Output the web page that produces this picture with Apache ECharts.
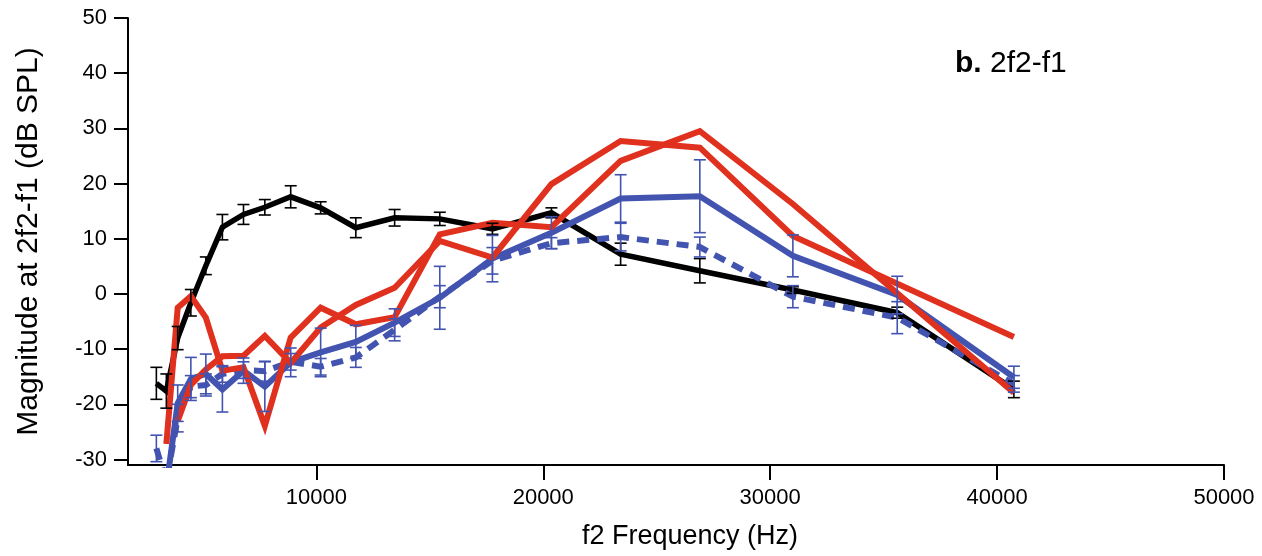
<!DOCTYPE html>
<html>
<head>
<meta charset="utf-8">
<script src="https://cdn.jsdelivr.net/npm/echarts@6/dist/echarts.min.js"></script>
<style>
html,body{margin:0;padding:0;background:#fff;}
#chart{width:1262px;height:556px;}
</style>
</head>
<body>
<div id="chart"></div>
<script>
// f2 frequencies (Hz)
const freqs = [2950, 3390, 3890, 4470, 5130, 5860, 6790, 7730, 8870, 10190, 11740, 13450, 15440, 17760, 20360, 23410, 26900, 31000, 35600, 40740];
// black series and SEM
const black    = [-16.2, -17.6, -8.0, -1.6, 5.1, 12.1, 14.4, 15.7, 17.6, 15.6, 12.0, 13.8, 13.6, 11.8, 14.7, 7.2, 4.2, 0.7, -3.4, -17.3];
const blackErr = [2.9, 3.1, 2.1, 2.4, 1.6, 2.3, 1.8, 1.4, 2.0, 1.1, 1.8, 1.5, 1.2, 1.0, 0.9, 2.0, 2.2, 0.6, 1.0, 1.5];
// blue solid series and SEM
const blueSolid = [null, -35, -19.8, -15.4, -14.5, -17.3, -13.9, -16.8, -12.4, -10.6, -8.7, -5.2, -0.7, 6.4, 11.1, 17.3, 17.7, 6.9, -0.2, -15.1];
const solidErr  = [null, null, 3.3, 3.9, 3.6, 4.1, 2.3, 4.5, 2.6, 4.4, 3.0, 2.5, 5.7, 4.2, 2.9, 4.3, 6.6, 3.8, 3.4, 2.0];
// blue dashed series and SEM
const blueDashed = [-28.0, -34, -22.5, -16.8, -16.5, -14.5, -13.8, -14.0, -12.3, -13.2, -11.5, -6.5, -0.5, 6.0, 9.2, 10.3, 8.5, -0.5, -4.3, -16.3];
const dashedErr  = [2.4, null, 2.5, 2.0, 2.0, 1.5, 1.5, 1.8, 1.5, 1.5, 1.8, 2.0, 2.0, 2.4, 1.0, 2.5, 1.8, 2.0, 2.9, 1.5];
// two red series
const red1 = [null, -27.2, -2.5, -0.4, -4.3, -13.9, -13.3, -23.9, -7.9, -2.5, -5.5, -4.2, 10.8, 12.9, 12.1, 24.1, 29.5, 16.3, null, -17.9];
const red2 = [null, null, -23, -16.5, -13.7, -11.3, -11.2, -7.6, -12.5, -6.1, -2.0, 1.1, 9.6, 6.6, 19.9, 27.7, 26.5, 10.5, null, -7.8];
// tick labels
const xTicks = [10000, 20000, 30000, 40000, 50000];
const yTicks = [-30, -20, -10, 0, 10, 20, 30, 40, 50];

const RED = '#e0301e', BLUE = '#4254b0', BLACK = '#000000';
const TICK_FONT = '"Liberation Sans Narrow", "Liberation Sans", sans-serif';

function pts(vals) {
  const out = [];
  vals.forEach((v, i) => { if (v !== null) out.push([freqs[i], v]); });
  return out;
}
function errPts(vals, errs) {
  const out = [];
  vals.forEach((v, i) => { if (v !== null && errs[i] !== null) out.push([freqs[i], v, errs[i]]); });
  return out;
}
function errSeries(vals, errs, color, z) {
  return {
    type: 'custom', z: z, silent: true,
    data: errPts(vals, errs),
    encode: { x: 0, y: 1 },
    renderItem: function (params, api) {
      const x = api.value(0), y = api.value(1), e = api.value(2);
      const lo = api.coord([x, y - e]);
      const hi = api.coord([x, y + e]);
      const w = 6;
      const st = { stroke: color, lineWidth: 1.6 };
      return {
        type: 'group',
        children: [
          { type: 'line', shape: { x1: lo[0], y1: lo[1], x2: hi[0], y2: hi[1] }, style: st },
          { type: 'line', shape: { x1: lo[0] - w, y1: lo[1], x2: lo[0] + w, y2: lo[1] }, style: st },
          { type: 'line', shape: { x1: hi[0] - w, y1: hi[1], x2: hi[0] + w, y2: hi[1] }, style: st }
        ]
      };
    }
  };
}
function lineSeries(vals, color, width, z, dashed) {
  return {
    type: 'line', z: z, data: pts(vals), symbol: 'none', clip: true,
    lineStyle: { color: color, width: width, type: dashed ? [12, 8] : 'solid', join: 'miter' },
    silent: true
  };
}

const chart = echarts.init(document.getElementById('chart'), null, { renderer: 'canvas' });
chart.setOption({
  animation: false,
  backgroundColor: '#ffffff',
  grid: { left: 128, right: 38, top: 18, bottom: 91, containLabel: false },
  xAxis: {
    type: 'value', min: 1700, max: 50000,
    name: 'f2 Frequency (Hz)', nameLocation: 'middle', nameGap: 58,
    nameTextStyle: { fontFamily: 'Liberation Sans', fontSize: 27, color: '#000', padding: [0, 0, 0, 28] },
    axisLine: { onZero: false, lineStyle: { color: '#000', width: 2 } },
    axisTick: { show: true, length: 15, lineStyle: { color: '#000', width: 2 }, customValues: xTicks },
    axisLabel: { color: '#000', fontFamily: TICK_FONT, fontSize: 22, margin: 22, customValues: xTicks,
      formatter: function (v) { return String(v); } },
    splitLine: { show: false }
  },
  yAxis: {
    type: 'value', min: -31, max: 50,
    name: 'Magnitude at 2f2-f1 (dB SPL)', nameLocation: 'middle', nameGap: 84, nameRotate: 90,
    nameTextStyle: { fontFamily: 'Liberation Sans', fontSize: 30, color: '#000' },
    axisLine: { show: true, onZero: false, lineStyle: { color: '#000', width: 2 } },
    axisTick: { show: true, length: 14, lineStyle: { color: '#000', width: 2 }, customValues: yTicks },
    axisLabel: { color: '#000', fontFamily: TICK_FONT, fontSize: 22, margin: 21, customValues: yTicks,
      formatter: function (v) { return String(v); } },
    splitLine: { show: false }
  },
  graphic: [{
    type: 'text', left: 955, top: 49,
    style: {
      text: '{b|b.} 2f2-f1',
      font: '30px "Liberation Sans"',
      fill: '#000',
      rich: { b: { fontWeight: 'bold', fontSize: 30, fontFamily: 'Liberation Sans' } }
    }
  }],
  series: [
    lineSeries(black, BLACK, 5.5, 2, false),
    lineSeries(blueDashed, BLUE, 6, 3, true),
    lineSeries(blueSolid, BLUE, 6, 4, false),
    lineSeries(red1, RED, 6, 5, false),
    lineSeries(red2, RED, 6, 5, false),
    errSeries(black, blackErr, BLACK, 6),
    errSeries(blueSolid, solidErr, BLUE, 7),
    errSeries(blueDashed, dashedErr, BLUE, 7)
  ]
});
</script>
</body>
</html>
